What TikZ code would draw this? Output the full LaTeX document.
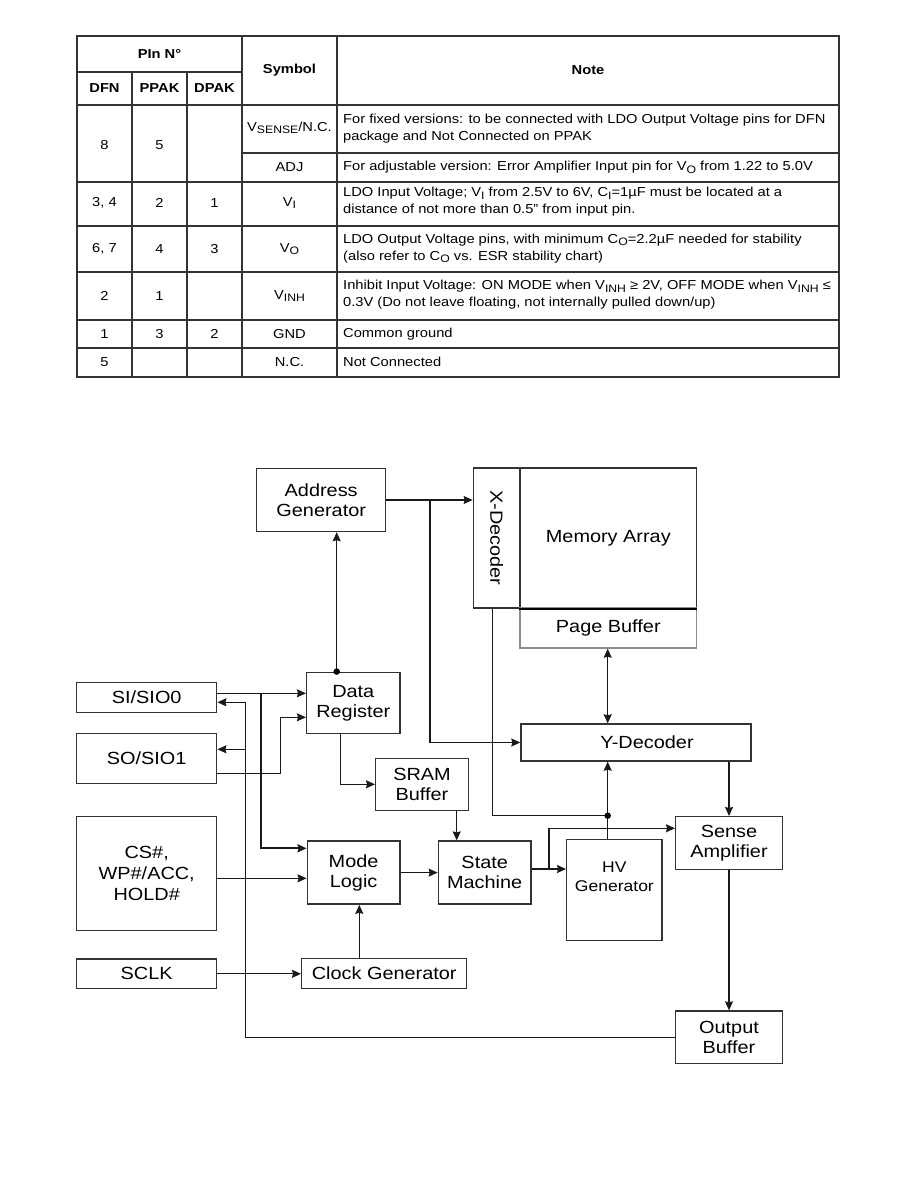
\documentclass[tikz,border=0pt]{standalone}
\usepackage{fontspec}
\setmainfont{Liberation Sans}[FakeStretch=1.13]
\usetikzlibrary{arrows.meta}
\newcommand\sbs[1]{\raisebox{-0.32ex}{\fontsize{10.8}{10.8}\selectfont #1}}
\begin{document}
\begin{tikzpicture}[x=1pt,y=-1pt,
  tline/.style={line width=1.4pt, draw=black!80},
  tcell/.style={inner sep=0pt, anchor=center, font=\fontsize{13}{17}\selectfont},
  thead/.style={tcell, font=\fontsize{13}{17}\selectfont\bfseries},
  tnote/.style={inner sep=0pt, anchor=west, align=left, font=\fontsize{13}{17}\selectfont},
  box/.style={draw=black!80, line width=1.4pt, inner sep=0pt, align=center, font=\fontsize{17.6}{20}\selectfont},
  conn/.style={draw=black!90, line width=1.3pt},
  arr/.style={conn, -{Stealth[length=9pt,width=8pt,inset=1pt]}},
  dbl/.style={conn, {Stealth[length=9pt,width=8pt,inset=1pt]}-{Stealth[length=9pt,width=8pt,inset=1pt]}},
  jdot/.style={circle, fill=black, inner sep=0pt, minimum size=6.5pt}
]
\useasboundingbox (0,0) rectangle (918,1188);
% ---------------- table ----------------
\draw[tline] (77,36) rectangle (839,377);
\draw[tline] (132,72) -- (132,377);
\draw[tline] (187,72) -- (187,377);
\draw[tline] (242,36) -- (242,377);
\draw[tline] (337,36) -- (337,377);
\draw[tline] (77,72) -- (242,72);
\draw[tline] (77,105) -- (839,105);
\draw[tline] (242,153) -- (839,153);
\foreach \yy in {182,226,272,320,348} \draw[tline] (77,\yy) -- (839,\yy);
% header
\node[thead] (hpin) at (159.5,54) {PIn N°};
\node[thead] (hdfn) at (104.5,88.5) {DFN};
\node[thead] (hppak) at (159.5,88.5) {PPAK};
\node[thead] (hdpak) at (214.5,88.5) {DPAK};
\node[thead] (hsym) at (289.5,70.5) {Symbol};
\node[thead] (hnote) at (588,70.5) {Note};
% row 1-2
\node[tcell] (r1a) at (104.5,145) {8};
\node[tcell] (r1b) at (159.5,145) {5};
\node[tcell] (r1s) at (289.5,128) {V\sbs{SENSE}/N.C.};
\node[tnote] (r1n) at (343,128.5) {For fixed versions: to be connected with LDO Output Voltage pins for DFN\\package and Not Connected on PPAK};
\node[tcell] (r2s) at (289.5,167.5) {ADJ};
\node[tnote] (r2n) at (343,167.5) {For adjustable version: Error Amplifier Input pin for V\sbs{O} from 1.22 to 5.0V};
% row V_I
\node[tcell] (r3a) at (104.5,203) {3, 4};
\node[tcell] (r3b) at (159.5,203) {2};
\node[tcell] (r3c) at (214.5,203) {1};
\node[tcell] (r3s) at (289.5,203) {V\sbs{I}};
\node[tnote] (r3n) at (343,202) {LDO Input Voltage; V\sbs{I} from 2.5V to 6V, C\sbs{I}=1µF must be located at a\\distance of not more than 0.5” from input pin.};
% row V_O
\node[tcell] (r4a) at (104.5,249) {6, 7};
\node[tcell] (r4b) at (159.5,249) {4};
\node[tcell] (r4c) at (214.5,249) {3};
\node[tcell] (r4s) at (289.5,249) {V\sbs{O}};
\node[tnote] (r4n) at (343,248.5) {LDO Output Voltage pins, with minimum C\sbs{O}=2.2µF needed for stability\\(also refer to C\sbs{O} vs. ESR stability chart)};
% row V_INH
\node[tcell] (r5a) at (104.5,296) {2};
\node[tcell] (r5b) at (159.5,296) {1};
\node[tcell] (r5s) at (289.5,296) {V\sbs{INH}};
\node[tnote] (r5n) at (343,295) {Inhibit Input Voltage: ON MODE when V\sbs{INH} ≥ 2V, OFF MODE when V\sbs{INH} ≤\\0.3V (Do not leave floating, not internally pulled down/up)};
% row GND
\node[tcell] (r6a) at (104.5,334) {1};
\node[tcell] (r6b) at (159.5,334) {3};
\node[tcell] (r6c) at (214.5,334) {2};
\node[tcell] (r6s) at (289.5,334) {GND};
\node[tnote] (r6n) at (343,334) {Common ground};
% row NC
\node[tcell] (r7a) at (104.5,362) {5};
\node[tcell] (r7s) at (289.5,362) {N.C.};
\node[tnote] (r7n) at (343,362) {Not Connected};
% ---------------- block diagram ----------------
\node[box, minimum width=129pt, minimum height=63pt] (adg) at (321.2,500) {Address\\Generator};
\node[box, minimum width=46.7pt, minimum height=140pt] (xd) at (496.7,538) {};
\node[rotate=-90, inner sep=0pt, font=\fontsize{17.6}{20}\selectfont] (xdt) at (xd) {X-Decoder};
\node[box, minimum width=176.7pt, minimum height=140pt] (ma) at (608.3,538) {Memory Array};
\node[box, draw=black!45, minimum width=176.7pt, minimum height=40pt] (pb) at (608.3,628) {Page Buffer};
\draw[line width=2.2pt, black] (ma.south west) -- (ma.south east);
\node[box, minimum width=230pt, minimum height=37pt] (yd) at (636,742.5) {\hspace*{22pt}Y-Decoder};
\node[box, minimum width=93.3pt, minimum height=61pt] (dr) at (353.3,702.8) {Data\\Register};
\node[box, minimum width=92.6pt, minimum height=52pt] (sram) at (422,784.3) {SRAM\\Buffer};
\node[box, minimum width=92.7pt, minimum height=63pt] (ml) at (353.6,872.6) {Mode\\Logic};
\node[box, minimum width=92.7pt, minimum height=63pt] (sm) at (484.7,872.6) {State\\Machine};
\node[box, minimum width=95.3pt, minimum height=101.4pt, font=\fontsize{15.5}{19}\selectfont] (hv) at (614.4,890) {HV\\Generator\\[8pt]};
\node[box, minimum width=106.6pt, minimum height=52.6pt] (sa) at (729,843) {Sense\\Amplifier};
\node[box, minimum width=106.6pt, minimum height=52.3pt] (ob) at (729,1037.2) {Output\\Buffer};
\node[box, minimum width=140pt, minimum height=30pt] (si) at (146.7,697.3) {SI/SIO0};
\node[box, minimum width=140pt, minimum height=50pt] (so) at (146.7,758.3) {SO/SIO1};
\node[box, minimum width=140pt, minimum height=114pt, font=\fontsize{17.6}{21}\selectfont] (cs) at (146.7,873.7) {CS\#,\\WP\#/ACC,\\HOLD\#};
\node[box, minimum width=140pt, minimum height=29.7pt] (sclk) at (146.7,973.8) {SCLK};
\node[box, minimum width=165pt, minimum height=30pt] (cg) at (384.2,973.3) {Clock Generator};
% helper coordinates
\coordinate (bx) at (245.7,0);
\coordinate (j1) at (430,500);
\coordinate (j2) at ([yshift=4pt,xshift=43.8pt]si.east);
\coordinate (drt) at ([xshift=-16.6pt]dr.north);
\coordinate (dotc) at (607.7,815.7);
% connectors
\draw[arr] (adg.east) -- (adg.east -| xd.west);
\draw[arr] (j1) |- (yd.west);
\draw[arr] (drt) -- (drt |- adg.south);
\draw[arr] ([yshift=4pt]si.east) -- ([yshift=4pt]si.east -| dr.west);
\draw[arr, line width=2.2pt] (j2) |- ([yshift=24.3pt]ml.west);
\draw[arr] ([yshift=-15pt]so.east) -- ++(63.3,0) |- ([yshift=-14.5pt]dr.west);
\draw[arr] (ob.west) -- (ob.west -| bx) |- ([yshift=-5pt]si.east);
\draw[arr] ([yshift=9pt]so.east -| bx) -- ([yshift=9pt]so.east);
\draw[arr] ([xshift=-12.6pt]dr.south) |- (sram.west);
\draw[arr] ([xshift=34.7pt]sram.south) -- ([xshift=34.7pt]sram.south |- sm.north);
\draw[arr] (ml.east) -- (sm.west);
\draw[arr] ([yshift=3.6pt]sm.east) -- ([yshift=3.6pt]sm.east -| hv.west);
\draw[arr] ([yshift=3.6pt]sm.east) ++(17.3,0) |- ([yshift=14.7pt]sa.west);
\draw[arr] ([xshift=-6.7pt]hv.north) -- ([xshift=-6.7pt]hv.north |- yd.south);
\draw[conn] ([xshift=-4pt]xd.south) |- (dotc);
\draw[arr] (yd.south -| sa.north) -- (sa.north);
\draw[arr] (sa.south) -- (ob.north);
\draw[arr] ([yshift=-4.6pt]cs.east) -- ([yshift=-4.6pt]cs.east -| ml.west);
\draw[arr] (sclk.east) -- (sclk.east -| cg.west);
\draw[arr] ([xshift=-24.9pt]cg.north) -- ([xshift=-24.9pt]cg.north |- ml.south);
\draw[dbl] ([xshift=-0.6pt]pb.south) -- ([xshift=-0.6pt]pb.south |- yd.north);
\node[jdot] (d1) at (drt) {};
\node[jdot] (d2) at (dotc) {};
\end{tikzpicture}
\end{document}
